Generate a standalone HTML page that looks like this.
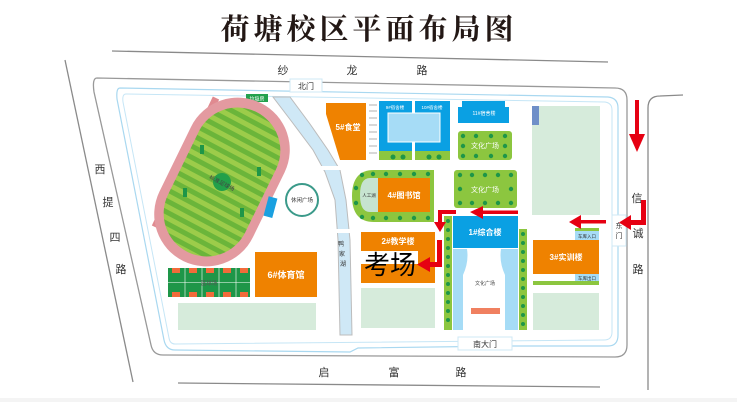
<!DOCTYPE html>
<html><head><meta charset="utf-8"><style>
html,body{margin:0;padding:0;background:#fff;width:737px;height:402px;overflow:hidden}
svg{display:block}
text{font-family:"Liberation Sans","Noto Sans CJK SC",sans-serif}
</style></head><body>
<svg width="737" height="402" viewBox="0 0 737 402" xmlns="http://www.w3.org/2000/svg">
<defs>
<pattern id="st" width="10" height="10" patternUnits="userSpaceOnUse" patternTransform="rotate(92)">
<rect width="10" height="10" fill="#9ccc4a"/><rect width="10" height="5" fill="#6bb53a"/>
</pattern>
</defs>
<rect x="0" y="398" width="737" height="4" fill="#f4f4f4"/>
<text x="369" y="39" text-anchor="middle" font-size="29" font-weight="bold" letter-spacing="4" fill="#231815" style="font-family:'Noto Serif CJK SC',serif">荷塘校区平面布局图</text>
<g stroke="#8a8a8a" stroke-width="1.3" fill="none">
<line x1="112" y1="51" x2="608" y2="62"/>
<line x1="65" y1="60" x2="133" y2="382"/>
<line x1="178" y1="383" x2="600" y2="387"/>
<path d="M648,390 L648,108 Q648,96 660,96 L683,95"/>
<path d="M97,78 L615,88 Q627,88 627,100 L627,345 Q627,357 615,357 L163,355 Q153,355 151,345 L94,92 Q92,78 97,78 Z" stroke="#999"/>
</g>
<path d="M120,88 L608,97 Q618,98 618,108 L618,335 Q618,346 608,346 L510,346 L358,348 L350,352 L175,350 Q166,350 164,340 L117,99 Q116,88 120,88 Z" fill="none" stroke="#a9d8f0" stroke-width="1.2"/>
<path d="M126,94 L605,102 Q612,103 612,110 L612,332 Q612,340 604,340 L175,344 Q170,344 169,338 L123,102 Q122,94 126,94 Z" fill="none" stroke="#c6e6f6" stroke-width="1"/>
<g font-size="11" fill="#333" text-anchor="middle">
<text x="283" y="74">纱</text><text x="352" y="74">龙</text><text x="422" y="74">路</text>
<text x="100" y="173">西</text><text x="108" y="206">提</text><text x="115" y="241">四</text><text x="121" y="273">路</text>
<text x="637" y="202">信</text><text x="638" y="237">诚</text><text x="638" y="273">路</text>
<text x="324" y="376">启</text><text x="394" y="376">富</text><text x="461" y="376">路</text>
</g>
<rect x="290" y="79" width="32" height="13" fill="#fff" stroke="#cfe8f5"/>
<text x="306" y="89" font-size="8" text-anchor="middle" fill="#333">北门</text>
<rect x="458" y="337" width="54" height="13" fill="#fff" stroke="#cfe8f5"/>
<text x="485" y="347" font-size="8" text-anchor="middle" fill="#333">南大门</text>
<rect x="612" y="215" width="14" height="31" fill="#fff" stroke="#cfe8f5"/>
<text x="619" y="228" font-size="7" text-anchor="middle" fill="#333">东</text>
<text x="619" y="238" font-size="7" text-anchor="middle" fill="#333">门</text>
<rect x="246" y="94" width="22" height="8" fill="#23a14d"/>
<text x="257" y="100.5" font-size="5" text-anchor="middle" fill="#fff">垃圾房</text>
<line x1="155" y1="227" x2="216" y2="98" stroke="#e08a90" stroke-width="7"/>
<g transform="translate(222,182) rotate(-64)">
<rect x="-88" y="-52" width="176" height="104" rx="52" fill="#e39aa0"/>
<rect x="-78" y="-43" width="156" height="86" rx="43" fill="url(#st)"/>
<circle cx="0" cy="0" r="9" fill="#22a04a"/>
</g>
<text x="222" y="185" font-size="5.5" fill="#444" text-anchor="middle" transform="rotate(28 222 183)">标准足球场</text>
<g fill="#1e9648"><rect x="200" y="145" width="4" height="9"/><rect x="240" y="208" width="4" height="9"/><rect x="183" y="188" width="4" height="9"/><rect x="257" y="167" width="4" height="9"/></g>
<g>
<rect x="168" y="268" width="82" height="29" fill="#1e9648"/>
<g fill="#f26b3a"><rect x="172" y="268" width="8" height="5"/><rect x="172" y="292" width="8" height="5"/><rect x="189" y="268" width="8" height="5"/><rect x="189" y="292" width="8" height="5"/><rect x="206" y="268" width="8" height="5"/><rect x="206" y="292" width="8" height="5"/><rect x="223" y="268" width="8" height="5"/><rect x="223" y="292" width="8" height="5"/><rect x="240" y="268" width="8" height="5"/><rect x="240" y="292" width="8" height="5"/></g>
<g stroke="#fff" stroke-width="0.6"><line x1="185" y1="268" x2="185" y2="297"/><line x1="202" y1="268" x2="202" y2="297"/><line x1="219" y1="268" x2="219" y2="297"/><line x1="236" y1="268" x2="236" y2="297"/><line x1="168" y1="282.5" x2="250" y2="282.5"/></g>
<text x="209" y="285" font-size="5.5" text-anchor="middle" fill="#555">篮球场</text>
</g>
<rect x="255" y="252" width="62" height="45" fill="#ef8200"/>
<text x="286" y="278" font-size="9" font-weight="bold" text-anchor="middle" fill="#fff">6#体育馆</text>
<rect x="178" y="303" width="138" height="27" fill="#d6ebdb"/>
<path d="M273,97 L290,97 L310,124 L328,150 L340,170 L346,200 L350,240 L352,335 L340,335 L338,240 L335,200 L325,172 L313,150 L292,122 Z" fill="#cfe8f6" stroke="#bcbcbc" stroke-width="1"/>
<rect x="318" y="166" width="30" height="4" fill="#fff"/>
<rect x="330" y="229" width="26" height="4" fill="#fff"/>
<g font-size="6" fill="#333" text-anchor="middle"><text x="341" y="246">鸭</text><text x="342" y="256">家</text><text x="343" y="266">湖</text></g>
<circle cx="302" cy="200" r="16" fill="#fff" stroke="#3b9a8a" stroke-width="2"/>
<text x="302" y="202" font-size="5.5" text-anchor="middle" fill="#333">休闲广场</text>
<rect x="266" y="197" width="9" height="20" fill="#1aa0e0" transform="rotate(15 270 207)"/>
<path d="M326,103 L366,103 L366,160 L340,160 L326,114 Z" fill="#ef8200"/>
<text x="348" y="130" font-size="8" font-weight="bold" text-anchor="middle" fill="#fff">5#食堂</text>
<g fill="#d8d8d8"><rect x="369" y="104" width="8" height="2"/><rect x="369" y="110" width="8" height="2"/><rect x="369" y="117" width="8" height="2"/><rect x="369" y="124" width="8" height="2"/><rect x="369" y="131" width="8" height="2"/><rect x="369" y="138" width="8" height="2"/><rect x="369" y="145" width="8" height="2"/><rect x="369" y="152" width="8" height="2"/></g>
<rect x="379" y="101" width="33" height="51" fill="#0aa0e3"/><rect x="415" y="101" width="35" height="51" fill="#0aa0e3"/>
<rect x="379" y="151" width="33" height="9" fill="#8cc63f"/><rect x="415" y="151" width="35" height="9" fill="#8cc63f"/>
<rect x="388" y="113" width="52" height="29" fill="#a6dcf6" stroke="#fff" stroke-width="1"/>
<text x="395" y="109" font-size="4.5" text-anchor="middle" fill="#fff">9#宿舍楼</text>
<text x="432" y="109" font-size="4.5" text-anchor="middle" fill="#fff">10#宿舍楼</text>
<path d="M462,101 L505,101 L505,107 L509,107 L509,123 L458,123 L458,107 L462,107 Z" fill="#0aa0e3"/>
<text x="484" y="115" font-size="5" text-anchor="middle" fill="#fff">11#宿舍楼</text>
<rect x="458" y="131" width="54" height="29" rx="3" fill="#8cc63f"/>
<text x="485" y="148" font-size="7" text-anchor="middle" fill="#fff">文化广场</text>
<rect x="454" y="170" width="63" height="38" rx="3" fill="#8cc63f"/>
<text x="485" y="192" font-size="7" text-anchor="middle" fill="#fff">文化广场</text>
<path d="M374,170 L434,170 L434,222 L374,222 Q352,222 352,196 Q352,170 374,170 Z" fill="#8cc63f"/>
<path d="M378,178 L378,212 L370,212 Q360,212 360,195 Q360,178 370,178 Z" fill="#c6e3d0"/>
<rect x="378" y="178" width="52" height="34" fill="#ef8200"/>
<text x="404" y="198" font-size="8" font-weight="bold" text-anchor="middle" fill="#fff">4#图书馆</text>
<text x="369" y="197" font-size="4.5" text-anchor="middle" fill="#333">人工湖</text>
<g fill="#1e9648">
<circle cx="393" cy="157" r="2.5"/><circle cx="403" cy="157" r="2.5"/><circle cx="429" cy="157" r="2.5"/><circle cx="439" cy="157" r="2.5"/>
<circle cx="463" cy="136" r="2.2"/><circle cx="476" cy="136" r="2.2"/><circle cx="491" cy="136" r="2.2"/><circle cx="505" cy="136" r="2.2"/><circle cx="463" cy="146" r="2.2"/><circle cx="505" cy="146" r="2.2"/><circle cx="463" cy="156" r="2.2"/><circle cx="476" cy="156" r="2.2"/><circle cx="491" cy="156" r="2.2"/><circle cx="505" cy="156" r="2.2"/>
<circle cx="460" cy="175" r="2.2"/><circle cx="472" cy="175" r="2.2"/><circle cx="485" cy="175" r="2.2"/><circle cx="498" cy="175" r="2.2"/><circle cx="511" cy="175" r="2.2"/><circle cx="460" cy="189" r="2.2"/><circle cx="511" cy="189" r="2.2"/><circle cx="460" cy="203" r="2.2"/><circle cx="472" cy="203" r="2.2"/><circle cx="485" cy="203" r="2.2"/><circle cx="498" cy="203" r="2.2"/><circle cx="511" cy="203" r="2.2"/>
<circle cx="362" cy="175" r="2.2"/><circle cx="373" cy="174" r="2.2"/><circle cx="386" cy="174" r="2.2"/><circle cx="400" cy="174" r="2.2"/><circle cx="414" cy="174" r="2.2"/><circle cx="428" cy="174" r="2.2"/><circle cx="356" cy="188" r="2.2"/><circle cx="356" cy="203" r="2.2"/><circle cx="362" cy="217" r="2.2"/><circle cx="373" cy="218" r="2.2"/><circle cx="386" cy="218" r="2.2"/><circle cx="400" cy="218" r="2.2"/><circle cx="414" cy="218" r="2.2"/><circle cx="428" cy="218" r="2.2"/>
</g>
<rect x="361" y="232" width="74" height="19" fill="#ef8200"/>
<rect x="361" y="264" width="74" height="19" fill="#ef8200"/>
<rect x="418" y="251" width="17" height="13" fill="#ef8200"/>
<text x="398" y="244" font-size="8" font-weight="bold" text-anchor="middle" fill="#fff">2#教学楼</text>
<text x="364" y="274" font-size="26" fill="#000">考场</text>
<rect x="361" y="288" width="74" height="40" fill="#d6ebdb"/>
<rect x="444" y="216" width="8" height="114" fill="#8cc63f"/>
<rect x="519" y="229" width="8" height="101" fill="#8cc63f"/>
<g fill="#1e9648"><circle cx="448" cy="221" r="2"/><circle cx="448" cy="230" r="2"/><circle cx="448" cy="239" r="2"/><circle cx="448" cy="248" r="2"/><circle cx="448" cy="257" r="2"/><circle cx="448" cy="266" r="2"/><circle cx="448" cy="275" r="2"/><circle cx="448" cy="284" r="2"/><circle cx="448" cy="293" r="2"/><circle cx="448" cy="302" r="2"/><circle cx="448" cy="311" r="2"/><circle cx="448" cy="320" r="2"/>
<circle cx="523" cy="234" r="2"/><circle cx="523" cy="243" r="2"/><circle cx="523" cy="252" r="2"/><circle cx="523" cy="261" r="2"/><circle cx="523" cy="270" r="2"/><circle cx="523" cy="279" r="2"/><circle cx="523" cy="288" r="2"/><circle cx="523" cy="297" r="2"/><circle cx="523" cy="306" r="2"/><circle cx="523" cy="315" r="2"/><circle cx="523" cy="324" r="2"/></g>
<rect x="453" y="249" width="65" height="81" fill="#a6dcf6"/>
<path d="M467,249 L501,249 Q499,262 505,275 L505,330 L463,330 L463,275 Q469,262 467,249 Z" fill="#fff"/>
<rect x="453" y="216" width="65" height="32" fill="#0aa0e3"/>
<text x="485" y="235" font-size="8" font-weight="bold" text-anchor="middle" fill="#fff">1#综合楼</text>
<text x="485" y="285" font-size="5" text-anchor="middle" fill="#444">文化广场</text>
<rect x="471" y="308" width="29" height="6" fill="#f08060"/>
<rect x="532" y="106" width="68" height="109" fill="#d6ebdb"/>
<rect x="532" y="106" width="7" height="19" fill="#6f8fc8"/>
<rect x="575" y="228" width="24" height="3" fill="#8cc63f"/>
<rect x="575" y="231" width="24" height="9" fill="#a6dcf6"/>
<text x="587" y="238" font-size="4.5" text-anchor="middle" fill="#333">车库入口</text>
<rect x="533" y="240" width="66" height="34" fill="#ef8200"/>
<text x="566" y="260" font-size="8" font-weight="bold" text-anchor="middle" fill="#fff">3#实训楼</text>
<rect x="575" y="274" width="24" height="7" fill="#a6dcf6"/>
<text x="587" y="280" font-size="4.5" text-anchor="middle" fill="#333">车库出口</text>
<rect x="533" y="281" width="66" height="4" fill="#8cc63f"/>
<rect x="533" y="293" width="66" height="37" fill="#d6ebdb"/>
<g fill="#e60012">
<rect x="635" y="100" width="4" height="37"/><path d="M629,134 L645,134 L637,152 Z"/>
<path d="M641,200 L646,200 L646,225 L630,225 L630,220 L641,220 Z"/><path d="M631,215 L631,230 L619,222.5 Z"/>
<rect x="580" y="220" width="26" height="3.5"/><path d="M581,215 L581,229 L569,222 Z"/>
<rect x="482" y="210.5" width="36" height="3.5"/><path d="M483,206 L483,219 L470,212 Z"/>
<path d="M456,210 L456,214 L442,214 L442,224 L438,224 L438,210 Z"/><path d="M434,222 L446,222 L440,232 Z"/>
<path d="M437,240 L442,240 L442,267 L428,267 L428,262 L437,262 Z"/><path d="M430,257 L430,272 L417,264.5 Z"/>
</g>
</svg>
</body></html>
